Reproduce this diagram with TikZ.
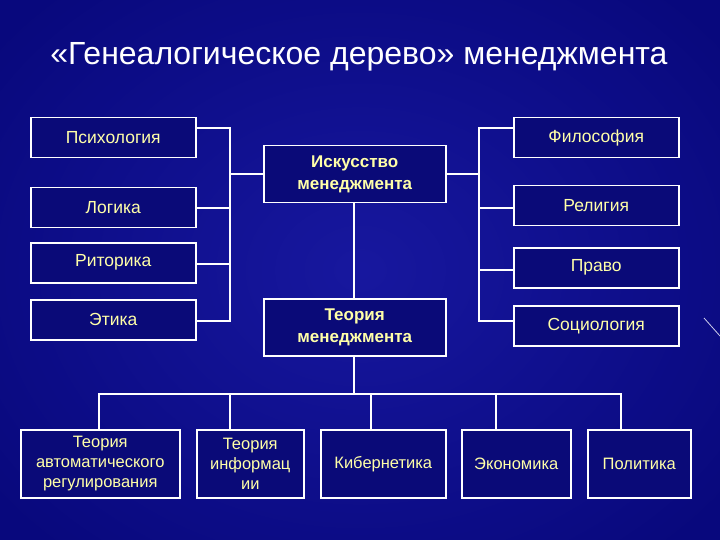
\documentclass[tikz,border=0pt]{standalone}
\usepackage{fontspec}
\setmainfont{Liberation Sans}
\begin{document}
\begin{tikzpicture}[x=1pt,y=-1pt,
  box/.style={draw=white,line width=1.5pt,fill=boxfill,text=txt,font=\fontsize{17.5}{19}\selectfont,align=center,inner sep=0pt,anchor=north west},
  bbox/.style={box,font=\bfseries\fontsize{17}{22}\selectfont},
  ln/.style={draw=white,line width=1.5pt}]
\definecolor{bg}{HTML}{0C0C9A}
\definecolor{bgdark}{HTML}{050560}
\definecolor{boxfill}{HTML}{0A0A78}
\definecolor{txt}{HTML}{FFFFA8}
\useasboundingbox (0,0) rectangle (720,540);
\shade[inner color=bg!90!white, outer color=bgdark] (-100,-100) rectangle (820,640);
\fill[bg,opacity=0.5] (0,0) rectangle (720,540);
\node[text=white,font=\fontsize{32}{38}\selectfont] (title) at (359,57) {«Генеалогическое дерево» менеджмента};
% left
\node[box,minimum width=165,minimum height=40] (psy) at (30,117) {Психология};
\node[box,minimum width=165,minimum height=40] (log) at (30,187) {Логика};
\node[box,minimum width=165,minimum height=40] (rit) at (30,242) {Риторика};
\node[box,minimum width=165,minimum height=40] (eth) at (30,299) {Этика};
% right
\node[box,minimum width=165,minimum height=40] (phi) at (513,117) {Философия};
\node[box,minimum width=165,minimum height=40] (rel) at (513,185) {Религия};
\node[box,minimum width=165,minimum height=40] (law) at (513,247) {Право};
\node[box,minimum width=165,minimum height=40] (soc) at (513,305) {Социология};
% center
\node[bbox,minimum width=182,minimum height=57] (art) at (263,145) {Искусство\\менеджмента};
\node[bbox,minimum width=182,minimum height=57] (th) at (263,298) {Теория\\менеджмента};
% bottom
\node[box,minimum width=159,minimum height=68,font=\fontsize{16.5}{20}\selectfont] (b1) at (20,429) {Теория\\автоматического\\регулирования};
\node[box,minimum width=107,minimum height=68,font=\fontsize{16.5}{20}\selectfont] (b2) at (196,429) {Теория\\информац\\ии};
\node[box,minimum width=125,minimum height=68,font=\fontsize{16.5}{20}\selectfont] (b3) at (320,429) {Кибернетика};
\node[box,minimum width=109,minimum height=68,font=\fontsize{16.5}{20}\selectfont] (b4) at (461,429) {Экономика};
\node[box,minimum width=103,minimum height=68,font=\fontsize{16.5}{20}\selectfont] (b5) at (587,429) {Политика};
% coordinates
\coordinate (lb) at (230,0);
\coordinate (rb) at (479,0);
\draw[ln] (psy.east |- 0,128) -- (lb |- 0,128) -- (lb |- 0,321) -- (eth.east |- 0,321);
\draw[ln] (log.east |- 0,208) -- (lb |- 0,208);
\draw[ln] (rit.east |- 0,264) -- (lb |- 0,264);
\draw[ln] (lb |- 0,174) -- (art.west |- 0,174);
\draw[ln] (phi.west |- 0,128) -- (rb |- 0,128) -- (rb |- 0,321) -- (soc.west |- 0,321);
\draw[ln] (rel.west |- 0,208) -- (rb |- 0,208);
\draw[ln] (law.west |- 0,270) -- (rb |- 0,270);
\draw[ln] (rb |- 0,174) -- (art.east |- 0,174);
\draw[ln] (art.south -| 354,0) -- (th.north -| 354,0);
\coordinate (hb) at (354,394);
\draw[ln] (th.south -| 354,0) -- (hb);
\draw[ln] (b1.north -| 99,0) -- (99,394) -- (621,394) -- (b5.north -| 621,0);
\draw[ln] (b2.north -| 230,0) -- (230,394);
\draw[ln] (b3.north -| 371,0) -- (371,394);
\draw[ln] (b4.north -| 496,0) -- (496,394);
\draw[white!80!bg,line width=0.8pt] (704,318) -- (720,336);
\end{tikzpicture}
\end{document}
